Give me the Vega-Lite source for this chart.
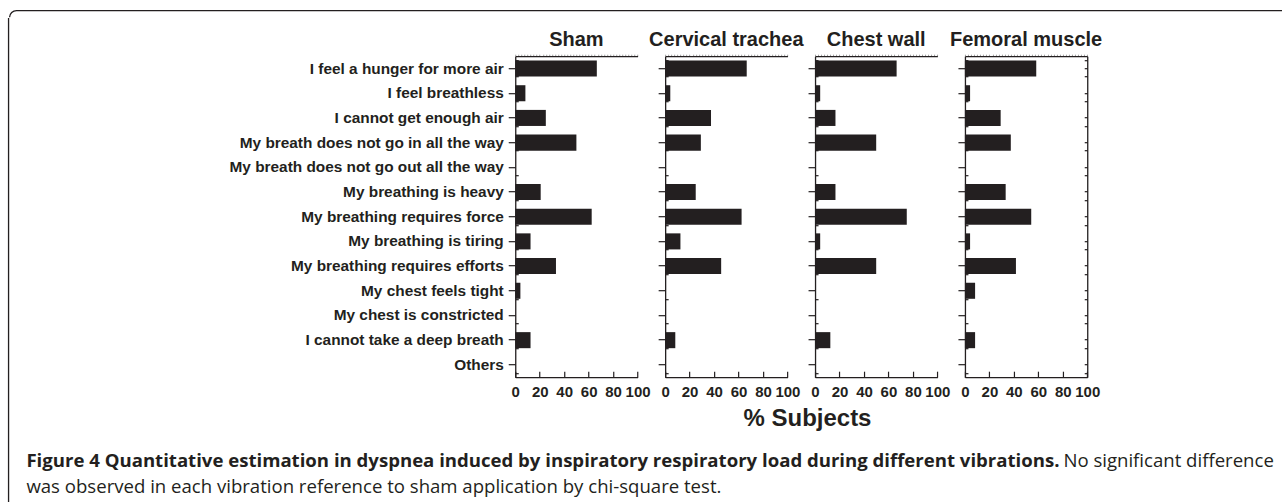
{
  "$schema": "https://vega.github.io/schema/vega-lite/v6.json",
  "padding": {"left": 7.35, "top": 9.35, "right": 0, "bottom": 0},
  "background": "white",
  "config": {
    "view": {"stroke": null},
    "font": "Liberation Sans",
    "axis": {"domainColor": "#231f20", "tickColor": "#231f20", "labelColor": "#231f20", "labelFont": "Liberation Sans", "labelFontWeight": "bold", "labelFontSize": 15, "domainWidth": 1.3, "tickWidth": 1.2, "grid": false},
    "title": {"font": "Liberation Sans", "fontWeight": "bold", "color": "#231f20"}
  },
  "datasets": {
    "d": [
      {"panel": "Sham", "item": "I feel a hunger for more air", "pct": 66.7},
      {"panel": "Sham", "item": "I feel breathless", "pct": 8.3},
      {"panel": "Sham", "item": "I cannot get enough air", "pct": 25},
      {"panel": "Sham", "item": "My breath does not go in all the way", "pct": 50},
      {"panel": "Sham", "item": "My breath does not go out all the way", "pct": 0},
      {"panel": "Sham", "item": "My breathing is heavy", "pct": 20.8},
      {"panel": "Sham", "item": "My breathing requires force", "pct": 62.5},
      {"panel": "Sham", "item": "My breathing is tiring", "pct": 12.5},
      {"panel": "Sham", "item": "My breathing requires efforts", "pct": 33.3},
      {"panel": "Sham", "item": "My chest feels tight", "pct": 4.2},
      {"panel": "Sham", "item": "My chest is constricted", "pct": 0},
      {"panel": "Sham", "item": "I cannot take a deep breath", "pct": 12.5},
      {"panel": "Sham", "item": "Others", "pct": 0},
      {"panel": "Cervical trachea", "item": "I feel a hunger for more air", "pct": 66.7},
      {"panel": "Cervical trachea", "item": "I feel breathless", "pct": 4.2},
      {"panel": "Cervical trachea", "item": "I cannot get enough air", "pct": 37.5},
      {"panel": "Cervical trachea", "item": "My breath does not go in all the way", "pct": 29.2},
      {"panel": "Cervical trachea", "item": "My breath does not go out all the way", "pct": 0},
      {"panel": "Cervical trachea", "item": "My breathing is heavy", "pct": 25},
      {"panel": "Cervical trachea", "item": "My breathing requires force", "pct": 62.5},
      {"panel": "Cervical trachea", "item": "My breathing is tiring", "pct": 12.5},
      {"panel": "Cervical trachea", "item": "My breathing requires efforts", "pct": 45.8},
      {"panel": "Cervical trachea", "item": "My chest feels tight", "pct": 0},
      {"panel": "Cervical trachea", "item": "My chest is constricted", "pct": 0},
      {"panel": "Cervical trachea", "item": "I cannot take a deep breath", "pct": 8.3},
      {"panel": "Cervical trachea", "item": "Others", "pct": 0},
      {"panel": "Chest wall", "item": "I feel a hunger for more air", "pct": 66.7},
      {"panel": "Chest wall", "item": "I feel breathless", "pct": 4.2},
      {"panel": "Chest wall", "item": "I cannot get enough air", "pct": 16.7},
      {"panel": "Chest wall", "item": "My breath does not go in all the way", "pct": 50},
      {"panel": "Chest wall", "item": "My breath does not go out all the way", "pct": 0},
      {"panel": "Chest wall", "item": "My breathing is heavy", "pct": 16.7},
      {"panel": "Chest wall", "item": "My breathing requires force", "pct": 75},
      {"panel": "Chest wall", "item": "My breathing is tiring", "pct": 4.2},
      {"panel": "Chest wall", "item": "My breathing requires efforts", "pct": 50},
      {"panel": "Chest wall", "item": "My chest feels tight", "pct": 0},
      {"panel": "Chest wall", "item": "My chest is constricted", "pct": 0},
      {"panel": "Chest wall", "item": "I cannot take a deep breath", "pct": 12.5},
      {"panel": "Chest wall", "item": "Others", "pct": 0},
      {"panel": "Femoral muscle", "item": "I feel a hunger for more air", "pct": 58.3},
      {"panel": "Femoral muscle", "item": "I feel breathless", "pct": 4.2},
      {"panel": "Femoral muscle", "item": "I cannot get enough air", "pct": 29.2},
      {"panel": "Femoral muscle", "item": "My breath does not go in all the way", "pct": 37.5},
      {"panel": "Femoral muscle", "item": "My breath does not go out all the way", "pct": 0},
      {"panel": "Femoral muscle", "item": "My breathing is heavy", "pct": 33.3},
      {"panel": "Femoral muscle", "item": "My breathing requires force", "pct": 54.2},
      {"panel": "Femoral muscle", "item": "My breathing is tiring", "pct": 4.2},
      {"panel": "Femoral muscle", "item": "My breathing requires efforts", "pct": 41.7},
      {"panel": "Femoral muscle", "item": "My chest feels tight", "pct": 8.3},
      {"panel": "Femoral muscle", "item": "My chest is constricted", "pct": 0},
      {"panel": "Femoral muscle", "item": "I cannot take a deep breath", "pct": 8.3},
      {"panel": "Femoral muscle", "item": "Others", "pct": 0}
    ]
  },
  "spacing": -1.31,
  "hconcat": [
    {
      "spacing": 0,
      "vconcat": [
        {"width": 0.01, "height": 7, "data": {"values": []}, "mark": {"type": "point", "opacity": 0}, "encoding": {}},
        {
          "width": 0.01,
          "height": 520,
          "view": {"stroke": "#231f20", "strokeWidth": 1.3},
          "data": {"values": []},
          "mark": {"type": "point", "opacity": 0},
          "encoding": {}
        }
      ]
    },
    {
      "spacing": 3.85,
      "vconcat": [
        {
          "width": 1300,
          "height": 14,
          "view": {"stroke": "#231f20", "strokeWidth": 1.3, "cornerRadius": 7, "strokeDash": [1297, 1308, 12, 0]},
          "data": {"values": []},
          "mark": {"type": "point", "opacity": 0},
          "encoding": {}
        },
        {
          "spacing": 20.3,
          "vconcat": [
            {
              "bounds": "flush",
              "spacing": 26.9,
              "title": {"text": "% Subjects", "orient": "bottom", "anchor": "middle", "fontSize": 24, "dx": 251.7, "offset": 8},
              "hconcat": [
                {"width": 478.75, "height": 321, "data": {"values": []}, "mark": {"type": "point", "opacity": 0}, "encoding": {}},
                {
                  "width": 122.3, "height": 321,
                  "data": {"name": "d"},
                  "transform": [{"filter": "datum.panel === 'Sham'"}],
                  "title": {"text": "Sham", "fontSize": 20, "offset": 4, "anchor": "middle", "frame": "group"},
                  "resolve": {"axis": {"x": "independent", "y": "independent"}},
                  "layer": [
                    {
                      "mark": {"type": "bar", "color": "#231f20"},
                      "encoding": {
                        "y": {"field": "item", "type": "nominal", "sort": null, "scale": {"paddingInner": 0.35, "paddingOuter": 0.175}, "axis": {"title": null, "orient": "left", "tickSize": 7, "labelPadding": 5, "labelLimit": 400, "labelFontSize": 15.4}},
                        "x": {"field": "pct", "type": "quantitative", "scale": {"domain": [0, 100], "nice": false}, "axis": {"title": null, "orient": "bottom", "values": [0, 20, 40, 60, 80, 100], "tickSize": -6, "labelPadding": 13, "labelFlush": false, "labelOverlap": false}}
                      }
                    },
                    {
                      "mark": {"type": "bar", "opacity": 0},
                      "encoding": {
                        "y": {"field": "item", "type": "nominal", "sort": null, "axis": {"title": null, "orient": "left", "tickBand": "extent", "tickSize": -3, "labels": false, "domain": false}},
                        "x": {"field": "pct", "type": "quantitative", "axis": {"title": null, "orient": "top", "values": [0,2.5,5,7.5,10,12.5,15,17.5,20,22.5,25,27.5,30,32.5,35,37.5,40,42.5,45,47.5,50,52.5,55,57.5,60,62.5,65,67.5,70,72.5,75,77.5,80,82.5,85,87.5,90,92.5,95,97.5,100], "tickSize": 2, "tickWidth": 0.8, "tickColor": "#888888", "labels": false}}
                      }
                    }
                  ]
                },
                {
                  "width": 122.3, "height": 321,
                  "data": {"name": "d"},
                  "transform": [{"filter": "datum.panel === 'Cervical trachea'"}],
                  "title": {"text": "Cervical trachea", "fontSize": 20, "offset": 4, "anchor": "middle", "frame": "group"},
                  "resolve": {"axis": {"x": "independent", "y": "independent"}},
                  "layer": [
                    {
                      "mark": {"type": "bar", "color": "#231f20"},
                      "encoding": {
                        "y": {"field": "item", "type": "nominal", "sort": null, "scale": {"paddingInner": 0.35, "paddingOuter": 0.175}, "axis": {"title": null, "orient": "left", "tickSize": 7, "labels": false}},
                        "x": {"field": "pct", "type": "quantitative", "scale": {"domain": [0, 100], "nice": false}, "axis": {"title": null, "orient": "bottom", "values": [0, 20, 40, 60, 80, 100], "tickSize": -6, "labelPadding": 13, "labelFlush": false, "labelOverlap": false}}
                      }
                    },
                    {
                      "mark": {"type": "bar", "opacity": 0},
                      "encoding": {
                        "y": {"field": "item", "type": "nominal", "sort": null, "axis": {"title": null, "orient": "left", "tickBand": "extent", "tickSize": -3, "labels": false, "domain": false}},
                        "x": {"field": "pct", "type": "quantitative", "axis": {"title": null, "orient": "top", "values": [0,2.5,5,7.5,10,12.5,15,17.5,20,22.5,25,27.5,30,32.5,35,37.5,40,42.5,45,47.5,50,52.5,55,57.5,60,62.5,65,67.5,70,72.5,75,77.5,80,82.5,85,87.5,90,92.5,95,97.5,100], "tickSize": 2, "tickWidth": 0.8, "tickColor": "#888888", "labels": false}}
                      }
                    }
                  ]
                },
                {
                  "width": 122.3, "height": 321,
                  "data": {"name": "d"},
                  "transform": [{"filter": "datum.panel === 'Chest wall'"}],
                  "title": {"text": "Chest wall", "fontSize": 20, "offset": 4, "anchor": "middle", "frame": "group"},
                  "resolve": {"axis": {"x": "independent", "y": "independent"}},
                  "layer": [
                    {
                      "mark": {"type": "bar", "color": "#231f20"},
                      "encoding": {
                        "y": {"field": "item", "type": "nominal", "sort": null, "scale": {"paddingInner": 0.35, "paddingOuter": 0.175}, "axis": {"title": null, "orient": "left", "tickSize": 7, "labels": false}},
                        "x": {"field": "pct", "type": "quantitative", "scale": {"domain": [0, 100], "nice": false}, "axis": {"title": null, "orient": "bottom", "values": [0, 20, 40, 60, 80, 100], "tickSize": -6, "labelPadding": 13, "labelFlush": false, "labelOverlap": false}}
                      }
                    },
                    {
                      "mark": {"type": "bar", "opacity": 0},
                      "encoding": {
                        "y": {"field": "item", "type": "nominal", "sort": null, "axis": {"title": null, "orient": "left", "tickBand": "extent", "tickSize": -3, "labels": false, "domain": false}},
                        "x": {"field": "pct", "type": "quantitative", "axis": {"title": null, "orient": "top", "values": [0,2.5,5,7.5,10,12.5,15,17.5,20,22.5,25,27.5,30,32.5,35,37.5,40,42.5,45,47.5,50,52.5,55,57.5,60,62.5,65,67.5,70,72.5,75,77.5,80,82.5,85,87.5,90,92.5,95,97.5,100], "tickSize": 2, "tickWidth": 0.8, "tickColor": "#888888", "labels": false}}
                      }
                    }
                  ]
                },
                {
                  "width": 122.3, "height": 321,
                  "data": {"name": "d"},
                  "transform": [{"filter": "datum.panel === 'Femoral muscle'"}],
                  "title": {"text": "Femoral muscle", "fontSize": 20, "offset": 4, "anchor": "middle", "frame": "group"},
                  "resolve": {"axis": {"x": "independent", "y": "independent"}},
                  "layer": [
                    {
                      "mark": {"type": "bar", "color": "#231f20"},
                      "encoding": {
                        "y": {"field": "item", "type": "nominal", "sort": null, "scale": {"paddingInner": 0.35, "paddingOuter": 0.175}, "axis": {"title": null, "orient": "left", "tickSize": 7, "labels": false}},
                        "x": {"field": "pct", "type": "quantitative", "scale": {"domain": [0, 100], "nice": false}, "axis": {"title": null, "orient": "bottom", "values": [0, 20, 40, 60, 80, 100], "tickSize": -6, "labelPadding": 13, "labelFlush": false, "labelOverlap": false}}
                      }
                    },
                    {
                      "mark": {"type": "bar", "opacity": 0},
                      "encoding": {
                        "y": {"field": "item", "type": "nominal", "sort": null, "axis": {"title": null, "orient": "left", "tickBand": "extent", "tickSize": -3, "labels": false, "domain": false}},
                        "x": {"field": "pct", "type": "quantitative", "axis": {"title": null, "orient": "top", "values": [0,2.5,5,7.5,10,12.5,15,17.5,20,22.5,25,27.5,30,32.5,35,37.5,40,42.5,45,47.5,50,52.5,55,57.5,60,62.5,65,67.5,70,72.5,75,77.5,80,82.5,85,87.5,90,92.5,95,97.5,100], "tickSize": 2, "tickWidth": 0.8, "tickColor": "#888888", "labels": false}}
                      }
                    },
                    {
                      "mark": {"type": "bar", "opacity": 0},
                      "encoding": {
                        "y": {"field": "item", "type": "nominal", "sort": null, "axis": {"title": null, "orient": "right", "tickSize": -3, "labels": false, "domain": true}},
                        "x": {"field": "pct", "type": "quantitative", "axis": null}
                      }
                    },
                    {
                      "mark": {"type": "bar", "opacity": 0},
                      "encoding": {
                        "y": {"field": "item", "type": "nominal", "sort": null, "axis": {"title": null, "orient": "right", "tickBand": "extent", "tickSize": -3, "labels": false, "domain": false}},
                        "x": {"field": "pct", "type": "quantitative", "axis": null}
                      }
                    }
                  ]
                }
              ]
            },
            {
              "bounds": "flush",
              "spacing": 0,
              "hconcat": [
                {
                  "width": 1036.8, "height": 1,
                  "data": {"values": []},
                  "mark": {"type": "point", "opacity": 0},
                  "encoding": {},
                  "title": {"text": "Figure 4 Quantitative estimation in dyspnea induced by inspiratory respiratory load during different vibrations.", "subtitle": "was observed in each vibration reference to sham application by chi-square test.", "anchor": "start", "frame": "group", "font": "Open Sans", "fontSize": 18.6, "fontWeight": "bold", "color": "#231f20", "subtitleFont": "Open Sans", "subtitleFontSize": 18.6, "subtitleFontWeight": "normal", "subtitleColor": "#231f20", "subtitlePadding": 7.4, "dx": 17.05, "offset": 0}
                },
                {
                  "width": 300, "height": 1,
                  "data": {"values": []},
                  "mark": {"type": "point", "opacity": 0},
                  "encoding": {},
                  "title": {"text": "No significant difference", "subtitle": " ", "anchor": "start", "frame": "group", "font": "Open Sans", "fontSize": 18.6, "fontWeight": "normal", "color": "#231f20", "subtitleFont": "Open Sans", "subtitleFontSize": 18.6, "subtitleFontWeight": "normal", "subtitleColor": "#231f20", "subtitlePadding": 7.4, "dx": 17.05, "offset": 0}
                }
              ]
            }
          ]
        }
      ]
    }
  ]
}
